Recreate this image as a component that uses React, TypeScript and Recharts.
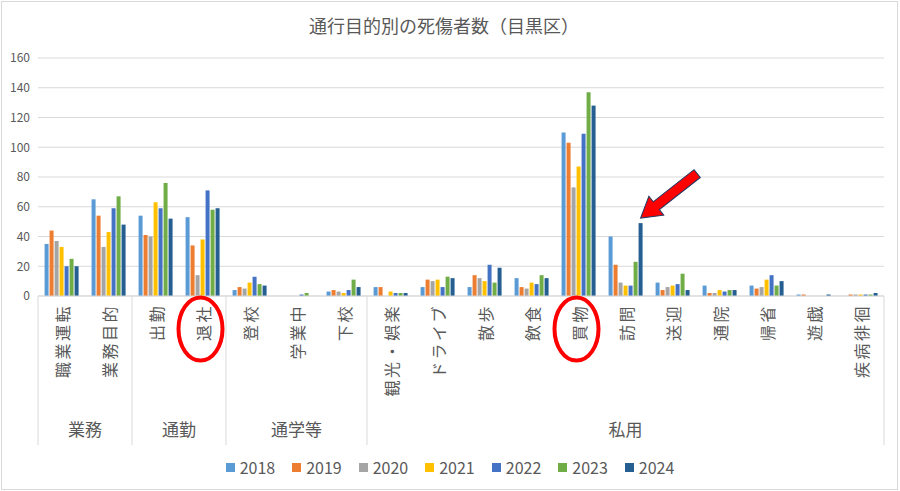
import React from 'react'
import { BarChart, Bar, XAxis, YAxis, CartesianGrid, Legend } from 'recharts'

const CATEGORIES = [
  '職業運転', '業務目的', '出勤', '退社', '登校', '学業中', '下校',
  '観光・娯楽', 'ドライブ', '散歩', '飲食', '買物', '訪問', '送迎', '通院', '帰省', '遊戯', '疾病徘徊',
]
const GROUPS = ['業務', '通勤', '通学等', '私用']
const GROUP_SIZES = [2, 2, 3, 11]

const YEARS = ['2018', '2019', '2020', '2021', '2022', '2023', '2024']
const COLORS = ['#5B9BD5', '#ED7D31', '#A5A5A5', '#FFC000', '#4472C4', '#70AD47', '#255E91']

const V2018 = [35, 65, 54, 53, 4, 0, 3, 6, 6, 6, 12, 110, 40, 9, 7, 7, 1, 0]
const V2019 = [44, 54, 41, 34, 6, 0, 4, 6, 11, 14, 6, 103, 21, 4, 2, 5, 1, 1]
const V2020 = [37, 33, 40, 14, 5, 0, 3, 0, 10, 12, 5, 73, 9, 6, 2, 6, 0, 1]
const V2021 = [33, 43, 63, 38, 9, 0, 2, 3, 11, 10, 9, 87, 7, 7, 4, 11, 0, 1]
const V2022 = [20, 59, 59, 71, 13, 1, 4, 2, 6, 21, 8, 109, 7, 8, 3, 14, 0, 1]
const V2023 = [25, 67, 76, 58, 8, 2, 11, 2, 13, 9, 14, 137, 23, 15, 4, 7, 0, 1]
const V2024 = [20, 48, 52, 59, 7, 0, 6, 2, 12, 19, 12, 128, 49, 4, 4, 10, 1, 2]

const Y_TICKS = [0, 20, 40, 60, 80, 100, 120, 140, 160]

// annotations from the picture
const CIRCLED = ['退社', '買物']
const ARROW_AT = '訪問'

const SERIES = [V2018, V2019, V2020, V2021, V2022, V2023, V2024]

const data = CATEGORIES.map((name, i) => {
  const row: Record<string, any> = { name }
  YEARS.forEach((y, k) => {
    row[y] = SERIES[k][i]
  })
  return row
})

// first index of every group
const GROUP_STARTS: number[] = []
GROUP_SIZES.reduce((acc, n) => {
  GROUP_STARTS.push(acc)
  return acc + n
}, 0)

const FONT = '"Noto Sans CJK JP", "Noto Sans", sans-serif'
const TEXT = '#595959'
const LINE = '#d9d9d9'

function CategoryTick(props: any) {
  const { x, y, payload } = props
  const half = payload?.offset || 23.5
  const i = CATEGORIES.indexOf(payload.value)
  const g = GROUP_STARTS.indexOf(i)
  const ty = y + 8
  return (
    <g>
      <text
        x={x}
        y={ty}
        transform={`rotate(-90, ${x}, ${ty})`}
        textAnchor="end"
        dominantBaseline="central"
        fontSize={16}
        letterSpacing={2.5}
        fill={TEXT}
        fontFamily={FONT}
      >
        {payload.value}
      </text>
      {g >= 0 && (
        <>
          <line x1={x - half} x2={x - half} y1={y} y2={y + 149} stroke={LINE} />
          <text
            x={x - half + GROUP_SIZES[g] * half}
            y={y + 132}
            textAnchor="middle"
            dominantBaseline="central"
            fontSize={17}
            fill={TEXT}
            fontFamily={FONT}
          >
            {GROUPS[g]}
          </text>
        </>
      )}
      {i === CATEGORIES.length - 1 && (
        <line x1={x + half} x2={x + half} y1={y} y2={y + 149} stroke={LINE} />
      )}
      {CIRCLED.includes(payload.value) && (
        <ellipse cx={x - 2} cy={y + 33} rx={22} ry={31.5} fill="none" stroke="#ff0000" strokeWidth={4} />
      )}
    </g>
  )
}

function Arrow({ tipX, tipY }: { tipX: number; tipY: number }) {
  const L = 72
  return (
    <polygon
      points={`0,-5 ${L - 20},-5 ${L - 20},-12 ${L},0 ${L - 20},12 ${L - 20},5 0,5`}
      transform={`translate(${tipX},${tipY}) rotate(141.8) translate(${-L},0)`}
      fill="#ff0000"
      stroke="#203864"
      strokeWidth={1}
    />
  )
}

function LastBar(props: any) {
  const { x, y, width, height, fill, payload } = props
  return (
    <g>
      <rect x={x} y={y} width={width} height={height} fill={fill} />
      {payload?.name === ARROW_AT && <Arrow tipX={x + width / 2} tipY={y - 5} />}
    </g>
  )
}

function LegendContent({ payload }: any) {
  return (
    <div
      style={{
        display: 'flex',
        justifyContent: 'center',
        gap: 17,
        fontFamily: FONT,
        fontSize: 16,
        color: TEXT,
        lineHeight: '24px',
      }}
    >
      {(payload || []).map((p: any) => (
        <span key={p.value} style={{ display: 'inline-flex', alignItems: 'center' }}>
          <span style={{ width: 9, height: 9, background: p.color, marginRight: 5, display: 'inline-block' }} />
          <span>{p.value}</span>
        </span>
      ))}
    </div>
  )
}

export default function App() {
  return (
    <div style={{ position: 'absolute', left: 0, top: 0, width: 900, height: 491, background: '#fff' }}>
      <div
        style={{
          position: 'absolute',
          left: 0,
          top: 12,
          width: 888,
          textAlign: 'center',
          fontFamily: FONT,
          fontSize: 18,
          lineHeight: '27px',
          color: TEXT,
        }}
      >
        通行目的別の死傷者数（目黒区）
      </div>
      <BarChart
        width={900}
        height={491}
        data={data}
        margin={{ top: 58, right: 16, bottom: 45, left: 0 }}
        barCategoryGap="14%"
        barGap={1}
      >
        <CartesianGrid vertical={false} stroke={LINE} />
        <XAxis
          dataKey="name"
          interval={0}
          height={150}
          tickLine={false}
          tickSize={0}
          tickMargin={0}
          axisLine={{ stroke: LINE }}
          tick={<CategoryTick />}
        />
        <YAxis
          width={38}
          domain={[0, 160]}
          ticks={Y_TICKS}
          axisLine={false}
          tickLine={false}
          tick={{ fontSize: 12, fill: TEXT, fontFamily: FONT }}
        />
        <Legend
          verticalAlign="middle"
          align="center"
          content={<LegendContent />}
          wrapperStyle={{ top: 455, left: 0, width: 900, height: 24 }}
        />
        {YEARS.map((y, k) => (
          <Bar
            key={y}
            dataKey={y}
            fill={COLORS[k]}
            isAnimationActive={false}
            shape={k === YEARS.length - 1 ? <LastBar /> : undefined}
          />
        ))}
      </BarChart>
      <div
        style={{
          position: 'absolute',
          left: 1,
          top: 1,
          width: 897,
          height: 489,
          boxSizing: 'border-box',
          border: `1px solid ${LINE}`,
          pointerEvents: 'none',
        }}
      />
    </div>
  )
}
